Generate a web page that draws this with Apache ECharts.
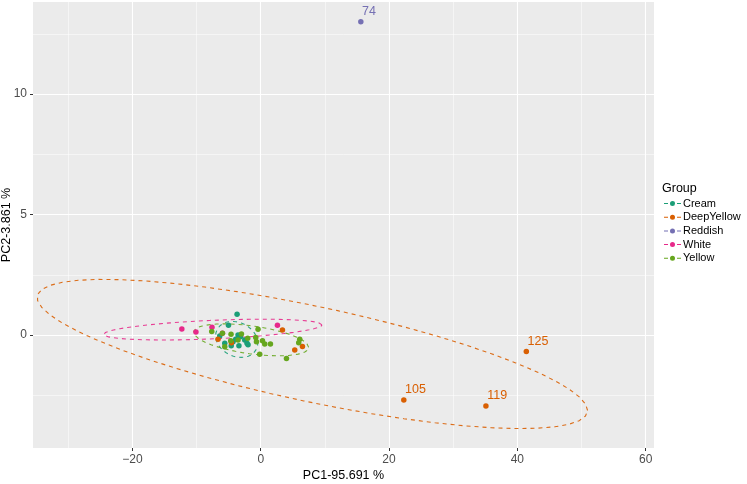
<!DOCTYPE html>
<html>
<head>
<meta charset="utf-8" />
<title>PCA</title>
<script src="https://cdn.jsdelivr.net/npm/echarts@6/dist/echarts.min.js"></script>
</head>
<body style="margin:0">
<div id="main" style="width: 747px; height: 484px"></div>
<script type="text/javascript">
// groups and palette (Dark2)
var groups = ['Cream', 'DeepYellow', 'Reddish', 'White', 'Yellow'];
var colors = ['#1B9E77', '#D95F02', '#7570B3', '#E7298A', '#66A61E'];

// PC scores
var creamPC1 = [-3.69, -5.03, -6.39, -3.54, -3.16, -2.49, -2.14, -1.98, -3.9, -4.32, -5.61, -4.6, -3.4];
var creamPC2 = [0.86, 0.40, -0.04, 0.00, -0.07, -0.21, -0.34, -0.41, -0.18, -0.28, -0.34, -0.45, -0.45];

var deepYellowPC1 = [3.38, -6.66, -4.57, 5.3, 6.5, 41.4, 22.3, 35.1];
var deepYellowPC2 = [0.21, -0.18, -0.32, -0.62, -0.48, -0.69, -2.7, -2.95];
var deepYellowTags = ['', '', '', '', '', '125', '105', '119'];

var reddishPC1 = [15.6];
var reddishPC2 = [13.0];
var reddishTags = ['74'];

var whitePC1 = [-12.3, -10.1, -7.6, -5.97, 2.6];
var whitePC2 = [0.25, 0.12, 0.32, 0.07, 0.40];

var yellowPC1 = [-7.64, -0.42, -0.78, -0.67, 0.27, 0.62, 1.51, -0.16, 4.01, 6.08, 5.92, -5.61, -5.97, -4.63, -3.01, -3.54, -4.68, -2.03];
var yellowPC2 = [0.14, 0.24, -0.10, -0.28, -0.24, -0.37, -0.37, -0.80, -0.98, -0.18, -0.32, -0.49, 0.07, 0.03, 0.04, -0.21, -0.24, -0.14];

var xMajor = [-20, 0, 20, 40, 60];
var xMinor = [-30, -10, 10, 30, 50];
var yMajor = [0, 5, 10];
var yMinor = [-2.5, 2.5, 7.5, 12.5];

var groupX = [creamPC1, deepYellowPC1, reddishPC1, whitePC1, yellowPC1];
var groupY = [creamPC2, deepYellowPC2, reddishPC2, whitePC2, yellowPC2];
var groupTags = [null, deepYellowTags, reddishTags, null, null];

// robust t covariance, same idea as MASS::cov.trob (nu = 5, tol = 0.01)
function covTrob(xs, ys) {
    var n = xs.length, nu = 5, p = 2, i;
    var loc = [0, 0];
    for (i = 0; i < n; i++) { loc[0] += xs[i] / n; loc[1] += ys[i] / n; }
    var w = xs.map(function () { return 1; });
    var dx = [], dy = [];
    for (var it = 0; it < 25; it++) {
        var w0 = w.slice();
        var sw = 0, a = 0, b = 0, c = 0;
        for (i = 0; i < n; i++) { dx[i] = xs[i] - loc[0]; dy[i] = ys[i] - loc[1]; sw += w[i]; }
        for (i = 0; i < n; i++) {
            a += w[i] * dx[i] * dx[i] / sw;
            b += w[i] * dx[i] * dy[i] / sw;
            c += w[i] * dy[i] * dy[i] / sw;
        }
        var det = a * c - b * b;
        var sx = 0, sy = 0, ws = 0;
        for (i = 0; i < n; i++) {
            var q = (c * dx[i] * dx[i] - 2 * b * dx[i] * dy[i] + a * dy[i] * dy[i]) / det;
            w[i] = (nu + p) / (nu + q);
            sx += w[i] * xs[i]; sy += w[i] * ys[i]; ws += w[i];
        }
        loc = [sx / ws, sy / ws];
        var done = true;
        for (i = 0; i < n; i++) { if (Math.abs(w[i] - w0[i]) >= 0.01) done = false; }
        if (done) break;
    }
    var cxx = 0, cxy = 0, cyy = 0;
    for (i = 0; i < n; i++) {
        cxx += w[i] * dx[i] * dx[i] / n;
        cxy += w[i] * dx[i] * dy[i] / n;
        cyy += w[i] * dy[i] * dy[i] / n;
    }
    return { center: loc, cov: [cxx, cxy, cyy] };
}

// 95% ellipse like ggplot2 stat_ellipse(type = "t")
function ellipsePath(xs, ys) {
    var n = xs.length;
    if (n < 3) return [];
    var v = covTrob(xs, ys);
    var dfd = n - 1;
    var qf = dfd / 2 * (Math.pow(0.05, -2 / dfd) - 1);
    var radius = Math.sqrt(2 * qf);
    var r11 = Math.sqrt(v.cov[0]);
    var r12 = v.cov[1] / r11;
    var r22 = Math.sqrt(Math.max(v.cov[2] - r12 * r12, 0));
    var out = [];
    for (var k = 0; k <= 51; k++) {
        var t = k * 2 * Math.PI / 51;
        out.push([v.center[0] + radius * Math.cos(t) * r11,
                  v.center[1] + radius * (Math.cos(t) * r12 + Math.sin(t) * r22)]);
    }
    return out;
}

var series = [];
groups.forEach(function (g, gi) {
    var path = ellipsePath(groupX[gi], groupY[gi]);
    if (path.length) {
        series.push({
            name: g + ' ellipse',
            type: 'line',
            data: path,
            showSymbol: false,
            silent: true,
            z: 2,
            lineStyle: { color: colors[gi], width: 1.1, type: [4, 4], opacity: 0.9 }
        });
    }
});
groups.forEach(function (g, gi) {
    var pts = groupX[gi].map(function (x, i) {
        var tag = groupTags[gi] ? groupTags[gi][i] : '';
        return { value: [x, groupY[gi][i]], label: { show: !!tag, formatter: tag } };
    });
    series.push({
        name: g,
        type: 'scatter',
        data: pts,
        symbolSize: 5.5,
        z: 3,
        itemStyle: { color: colors[gi], opacity: 1 },
        label: {
            position: [4, -14],
            color: colors[gi],
            fontSize: 12.5,
            fontFamily: 'Liberation Sans'
        }
    });
});

var keyIcon = 'path://M0,4.5h4v1h-4z M13,4.5h4v1h-4z M8.5,2.5a2.5,2.5 0 1,0 0.001,0z';

var myChart = echarts.init(document.getElementById('main'));
myChart.setOption({
    animation: false,
    textStyle: { fontFamily: 'Liberation Sans' },
    title: {
        text: 'Group',
        left: 662,
        top: 182,
        textStyle: { fontSize: 12.5, fontWeight: 'normal', color: '#000' },
        padding: 0
    },
    legend: {
        data: groups.map(function (g) { return { name: g, icon: keyIcon }; }),
        orient: 'vertical',
        left: 664,
        top: 198,
        itemWidth: 17,
        itemHeight: 10,
        itemGap: 2.7,
        padding: 0,
        textStyle: { fontSize: 11, color: '#000', lineHeight: 10, padding: [0, 0, 0, -3] }
    },
    grid: {
        left: 33, right: 93, top: 2, bottom: 36,
        containLabel: false,
        outerBoundsMode: 'none',
        show: true, backgroundColor: '#EBEBEB', borderWidth: 0
    },
    xAxis: [{
        type: 'value',
        min: -35.5, max: 61.3,
        name: 'PC1-95.691 %',
        nameLocation: 'middle',
        nameGap: 21,
        nameMoveOverlap: false,
        nameTextStyle: { fontSize: 12.5, color: '#000' },
        axisLine: { show: false, onZero: false },
        axisTick: { show: true, length: 3, customValues: xMajor, lineStyle: { color: '#333' } },
        axisLabel: { customValues: xMajor, color: '#4D4D4D', fontSize: 12, margin: 6,
            formatter: function (v) { return v < 0 ? '\u2212' + (-v) : String(v); } },
        splitLine: { show: true, lineStyle: { color: '#fff', width: 1.1 } }
    }, {
        type: 'value',
        min: -35.5, max: 61.3,
        position: 'top',
        axisLine: { show: false, onZero: false },
        axisTick: { show: false, customValues: xMinor },
        axisLabel: { show: false, customValues: xMinor },
        splitLine: { show: true, lineStyle: { color: '#fff', width: 0.5 } }
    }],
    yAxis: [{
        type: 'value',
        min: -4.69, max: 13.82,
        name: 'PC2-3.861 %',
        nameLocation: 'middle',
        nameGap: 20,
        nameMoveOverlap: false,
        nameTextStyle: { fontSize: 12.5, color: '#000' },
        axisLine: { show: false, onZero: false },
        axisTick: { show: true, length: 3, customValues: yMajor, lineStyle: { color: '#333' } },
        axisLabel: { customValues: yMajor, color: '#4D4D4D', fontSize: 12, margin: 6 },
        splitLine: { show: true, lineStyle: { color: '#fff', width: 1.1 } }
    }, {
        type: 'value',
        min: -4.69, max: 13.82,
        position: 'right',
        axisLine: { show: false, onZero: false },
        axisTick: { show: false, customValues: yMinor },
        axisLabel: { show: false, customValues: yMinor },
        splitLine: { show: true, lineStyle: { color: '#fff', width: 0.5 } }
    }],
    series: series
});
</script>
</body>
</html>
